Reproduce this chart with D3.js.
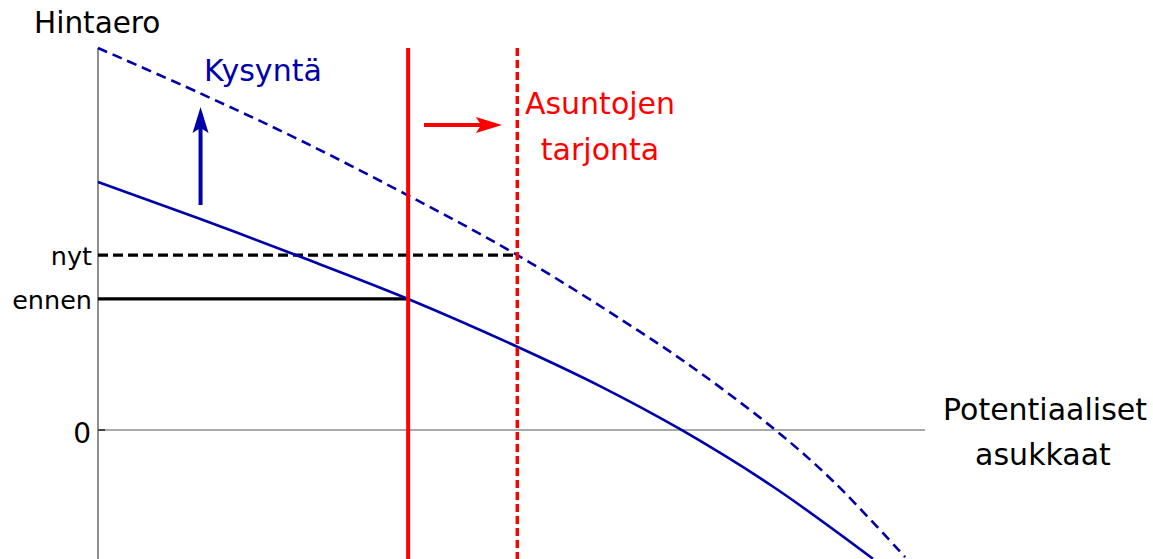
<!DOCTYPE html>
<html>
<head>
<meta charset="utf-8">
<script src="https://cdn.jsdelivr.net/npm/d3@7"></script>
<style>
  body { margin: 0; background: #fff; }
  svg text { font-family: "DejaVu Sans", Verdana, sans-serif; }
</style>
</head>
<body>
<div id="chart"></div>
<script>
// demand curves, x = potential residents, y = price difference
var demandBefore = [[0, 64.9], [12.3, 55.3], [24.4, 45.4], [37.5, 34.3], [50.7, 21.8],
                    [60.7, 11.5], [70.4, 0.2], [81.6, -14.8], [93.7, -33.7]];
var demandAfter = [[0, 100], [12.3, 88.2], [24.4, 75.9], [37.4, 61.5], [50.7, 45.8],
                   [65.2, 26.2], [72.8, 15.0], [81.9, 0], [88.9, -13.4], [97.6, -33.3]];
var supplyBefore = 37.5;
var supplyAfter = 50.7;
var priceBefore = 34.3;
var priceNow = 45.8;
var priceLabels = ["ennen", "nyt"];

var W = 1153, H = 559;
var blue = "#0000aa", red = "#ff0000";

var x = d3.scaleLinear().domain([0, 100]).range([98, 925]);
var y = d3.scaleLinear().domain([0, 100]).range([430, 48]);

var svg = d3.select("#chart").append("svg")
    .attr("width", W)
    .attr("height", H);

// axes
svg.append("line")
    .attr("x1", x(0)).attr("x2", x(0))
    .attr("y1", y(100)).attr("y2", H)
    .attr("stroke", "#444").attr("stroke-width", 1.2);
svg.append("line")
    .attr("x1", x(0)).attr("x2", x(100))
    .attr("y1", y(0)).attr("y2", y(0))
    .attr("stroke", "#555").attr("stroke-width", 1.2);
svg.append("line")
    .attr("x1", x(0)).attr("x2", x(0) + 7)
    .attr("y1", y(0)).attr("y2", y(0))
    .attr("stroke", "#444").attr("stroke-width", 2);

svg.append("text").attr("x", x(0) - 7).attr("y", y(0) + 13)
    .attr("text-anchor", "end").attr("font-size", 28).text("0");
svg.append("text").attr("x", 34).attr("y", 33)
    .attr("font-size", 29.5).text("Hintaero");
svg.append("text").attr("x", 1045).attr("y", 420)
    .attr("text-anchor", "middle").attr("font-size", 30).text("Potentiaaliset");
svg.append("text").attr("x", 1043).attr("y", 465)
    .attr("text-anchor", "middle").attr("font-size", 30).text("asukkaat");

// price levels
svg.append("line")
    .attr("x1", x(0)).attr("x2", x(supplyBefore))
    .attr("y1", y(priceBefore)).attr("y2", y(priceBefore))
    .attr("stroke", "#000").attr("stroke-width", 3.2);
svg.append("line")
    .attr("x1", x(0)).attr("x2", x(supplyAfter))
    .attr("y1", y(priceNow)).attr("y2", y(priceNow))
    .attr("stroke", "#000").attr("stroke-width", 3.2)
    .attr("stroke-dasharray", "10,5");
svg.selectAll("text.price")
    .data([priceBefore, priceNow])
    .enter().append("text")
    .attr("class", "price")
    .attr("x", x(0) - 6)
    .attr("y", function(d) { return y(d) + 10; })
    .attr("text-anchor", "end")
    .attr("font-size", 25.5)
    .text(function(d, i) { return priceLabels[i]; });

// demand curves
var line = d3.line()
    .x(function(d) { return x(d[0]); })
    .y(function(d) { return y(d[1]); })
    .curve(d3.curveCatmullRom.alpha(0.5));
svg.append("path").datum(demandBefore)
    .attr("d", line).attr("fill", "none")
    .attr("stroke", blue).attr("stroke-width", 2.6);
svg.append("path").datum(demandAfter)
    .attr("d", line).attr("fill", "none")
    .attr("stroke", blue).attr("stroke-width", 2.6)
    .attr("stroke-dasharray", "10,6");

// supply lines
svg.append("line")
    .attr("x1", x(supplyBefore)).attr("x2", x(supplyBefore))
    .attr("y1", y(100)).attr("y2", H)
    .attr("stroke", red).attr("stroke-width", 4);
svg.append("line")
    .attr("x1", x(supplyAfter)).attr("x2", x(supplyAfter))
    .attr("y1", y(100)).attr("y2", H)
    .attr("stroke", red).attr("stroke-width", 3.5)
    .attr("stroke-dasharray", "8,4");

// labels
svg.append("text").attr("x", 204).attr("y", 81)
    .attr("font-size", 30).attr("fill", blue).text("Kysyntä");
svg.append("text").attr("x", 600).attr("y", 114)
    .attr("text-anchor", "middle").attr("font-size", 30).attr("fill", red).text("Asuntojen");
svg.append("text").attr("x", 600).attr("y", 160)
    .attr("text-anchor", "middle").attr("font-size", 30).attr("fill", red).text("tarjonta");

// shift arrows
var bx = x(12.4);
svg.append("line")
    .attr("x1", bx).attr("x2", bx).attr("y1", 205).attr("y2", 125)
    .attr("stroke", blue).attr("stroke-width", 4);
svg.append("path")
    .attr("d", "M" + bx + ",107 L" + (bx + 8) + ",133 L" + bx + ",128 L" + (bx - 8) + ",133 Z")
    .attr("fill", blue);

svg.append("line")
    .attr("x1", 424).attr("x2", 485).attr("y1", 125).attr("y2", 125)
    .attr("stroke", red).attr("stroke-width", 4);
svg.append("path")
    .attr("d", "M502,125 L476,117 L481,125 L476,133 Z")
    .attr("fill", red);
</script>
</body>
</html>
